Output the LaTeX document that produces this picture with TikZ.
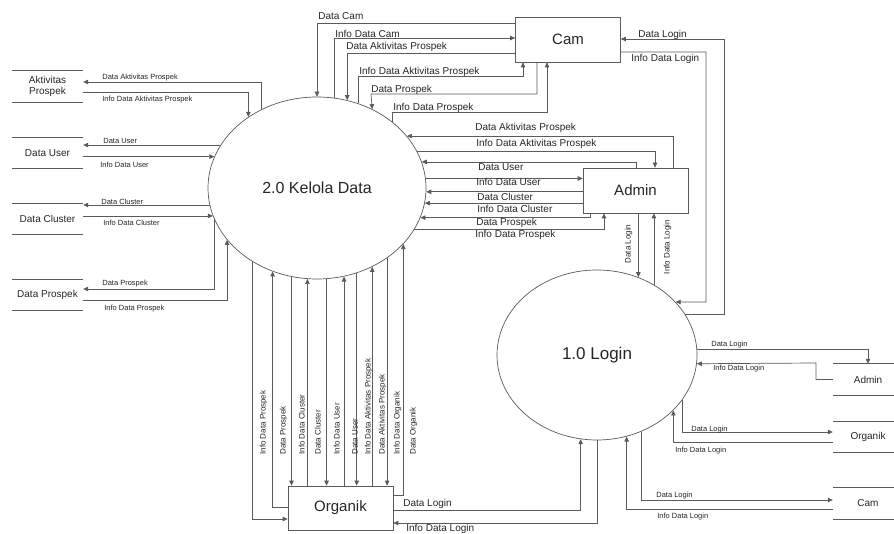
\documentclass[tikz,border=0pt]{standalone}
\usepackage{fontspec}
\setmainfont{Liberation Sans}
\usetikzlibrary{arrows.meta,shapes.geometric}
\definecolor{linegray}{HTML}{5A5A5A}
\definecolor{textgray}{HTML}{262626}

\begin{document}
\begin{tikzpicture}[x=1pt,y=-1pt,
	flow/.style={draw=linegray,line width=0.7pt,-{Triangle[length=5pt,width=4.5pt]}},
	proc/.style={ellipse,draw=linegray,line width=0.7pt,inner sep=0pt,text=textgray},
	ent/.style={rectangle,draw=linegray,line width=0.7pt,inner sep=0pt,minimum width=105pt,minimum height=45pt,text=textgray,font=\fontsize{15}{18}\selectfont},
	store/.style={inner sep=0pt,minimum width=71pt,minimum height=31pt,text=textgray,align=center,font=\fontsize{10}{10.5}\selectfont},
	lab/.style={inner sep=0pt,text=textgray,text height=.72em,text depth=0pt,anchor=west},
	big/.style={lab,font=\fontsize{10}{12}\selectfont},
	small/.style={lab,font=\fontsize{7.5}{9}\selectfont},
	vert/.style={lab,rotate=90,font=\fontsize{8}{9.6}\selectfont}]
	\useasboundingbox (0,0) rectangle (894,534);
	\fill[white] (0,0) rectangle (894,534);

	% processes and entities
	\node[proc,minimum width=218pt,minimum height=182pt,font=\fontsize{16}{19}\selectfont] (kd) at (317,188) {2.0 Kelola Data};
	\node[proc,minimum width=200pt,minimum height=170pt,font=\fontsize{17}{20}\selectfont] (lg) at (597,355) {1.0 Login};
	\node[ent] (cam) at (568,39.5) {Cam};
	\node[ent] (adm) at (635.5,190.5) {Admin};
	\node[ent,minimum height=44pt] (org) at (340.5,508) {Organik};

	% data stores
	\node[store] (aps) at (47.5,86.5) {Aktivitas\\Prospek};
	\node[store] (usr) at (47.5,153) {Data User};
	\node[store] (cls) at (47.5,219) {Data Cluster};
	\node[store] (pro) at (47.5,295) {Data Prospek};
	\node[store,minimum width=70pt] (sadm) at (868,379.5) {Admin};
	\node[store,minimum width=70pt] (sorg) at (868,437) {Organik};
	\node[store,minimum width=70pt] (scam) at (868,503.5) {Cam};
	\foreach \s in {aps,usr,cls,pro,sadm,sorg,scam}
		\draw[linegray,line width=0.7pt] (\s.north west) -- (\s.north east) (\s.south west) -- (\s.south east);

	% kelola data <-> stores
	\draw[flow] (kd.125) |- (aps.east |- 0,82) node[small] at (102,76) {Data Aktivitas Prospek};
	\draw[flow] (aps.east |- 0,92) -| (kd.134.4) node[small] at (102,98) {Info Data Aktivitas Prospek};
	\draw[flow] (kd.156.5) -- (kd.156.5 -| usr.east) node[small] at (103,140) {Data User};
	\draw[flow] (usr.east |- kd.163.8) -- (kd.163.8) node[small] at (100,164) {Info Data User};
	\draw[flow] (kd.189.6) -- (kd.189.6 -| cls.east) node[small] at (101,201) {Data Cluster};
	\draw[flow] (cls.east |- kd.195.1) -- (kd.195.1) node[small] at (103,222) {Info Data Cluster};
	\draw[flow] (kd.197.5) |- (pro.east |- 0,289) node[small] at (102,282) {Data Prospek};
	\draw[flow] (pro.east |- 0,300) -| (kd.210.5) node[small] at (104,307) {Info Data Prospek};

	% cam <-> kelola data
	\draw[flow] (cam.west |- 0,23) -| (kd.90) node[big] at (318,16) {Data Cam};
	\draw[flow] (kd.79.9) |- (cam.west |- 0,38) node[big] at (335,34) {Info Data Cam};
	\draw[flow] (cam.west |- 0,53) -| (kd.71.7) node[big] at (346,46) {Data Aktivitas Prospek};
	\draw[flow] (kd.64.7) |- (523,76) -- (523,76 |- cam.south) node[big] at (359,71) {Info Data Aktivitas Prospek};
	\draw[flow] (cam.south -| 537,0) |- (371,94) -- (kd.55.7) node[big] at (371,89) {Data Prospek};
	\draw[flow] (kd.41.4) |- (547,112) -- (547,112 |- cam.south) node[big] at (393,107) {Info Data Prospek};

	% admin <-> kelola data
	\draw[flow] (adm.north -| 673,0) |- (kd.30.9) node[big] at (475,127) {Data Aktivitas Prospek};
	\draw[flow] (kd.20.4) -| (adm.north -| 655,0) node[big] at (476,143) {Info Data Aktivitas Prospek};
	\draw[flow] (adm.north -| 636,0) |- (kd.14.5) node[big] at (478,167) {Data User};
	\draw[flow] (kd.5.8) -- (kd.5.8 -| adm.west) node[big] at (476,182) {Info Data User};
	\draw[flow] (adm.west |- kd.358.4) -- (kd.358.4) node[big] at (477,197) {Data Cluster};
	\draw[flow] (adm.west |- kd.352.1) -- (kd.352.1) node[big] at (477,209) {Info Data Cluster};
	\draw[flow] (adm.south -| 590,0) |- (kd.344.3) node[big] at (476,222) {Data Prospek};
	\draw[flow] (kd.337.8) -| (adm.south -| 604,0) node[big] at (475,234) {Info Data Prospek};

	% organik <-> kelola data
	\draw[flow] (kd.229) |- (org.west |- 0,519) node[vert,anchor=north west] at (258,455) {Info Data Prospek};
	\draw[flow] (org.west |- 0,507) -| (kd.242.2) node[vert,anchor=north west] at (278,455) {Data Prospek};
	\foreach \a/\x/\t in {254.2/297/Info Data Cluster,276.3/332/Info Data User,295.9/363/Info Data Aktivitas Prospek,315.1/392/Info Data Organik}
		\draw[flow] (kd.\a) -- (kd.\a |- org.north) node[vert,anchor=north west] at (\x,455) {\t};
	\foreach \a/\x/\t in {264.3/313/Data Cluster,287.7/350/Data User,305/377/Data Aktivitas Prospek}
		\draw[flow] (kd.\a |- org.north) -- (kd.\a) node[vert,anchor=north west] at (\x,455) {\t};
	\draw[flow] (org.east |- 0,495) -| (kd.327) node[vert,anchor=north west] at (408,455) {Data Organik};

	% login
	\draw[flow] (org.east |- 0,510) -| (lg.259.9) node[big] at (403,503) {Data Login};
	\draw[flow] (lg.270) |- (org.east |- 0,523) node[big] at (406,528) {Info Data Login};
	\draw[flow] (lg.62.8 |- adm.south) -- (lg.62.8) node[vert,anchor=south] at (631,244) {Data Login};
	\draw[flow] (lg.51.5) -- (lg.51.5 |- adm.south) node[vert,anchor=north] at (662,247) {Info Data Login};
	\draw[flow] (lg.25.8) -| (724,39) -- (cam.east |- 0,39) node[big] at (638,34) {Data Login};
	\draw[flow] (cam.east |- 0,52) -| (706,302) -- (lg.34.1) node[big] at (631,58) {Info Data Login};
	\draw[flow] (lg.3.4) -| (sadm.north) node[small] at (711,343) {Data Login};
	\draw[flow] (sadm.west) -| (816,363) -- (lg.355.4) node[small] at (713,367) {Info Data Login};
	\draw[flow] (lg.332.2) |- (sorg.west |- 0,432) node[small] at (691,428) {Data Login};
	\draw[flow] (sorg.west |- 0,442) -| (lg.324) node[small] at (675,449) {Info Data Login};
	\draw[flow] (lg.300.7) |- (scam.west |- 0,500) node[small] at (656,494) {Data Login};
	\draw[flow] (scam.west |- 0,509) -| (lg.290.3) node[small] at (657,515) {Info Data Login};
\end{tikzpicture}
\end{document}
